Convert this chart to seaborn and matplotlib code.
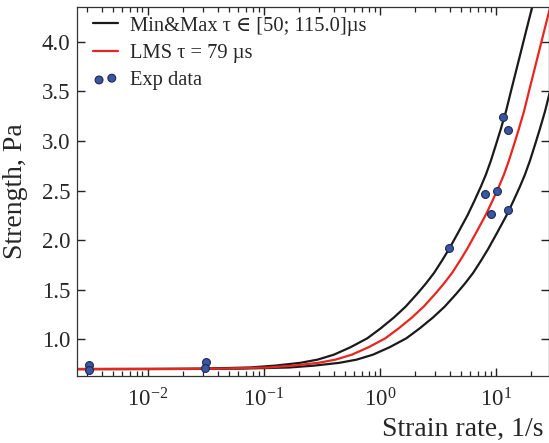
import numpy as np
import pandas as pd
import matplotlib
matplotlib.use("Agg")
import matplotlib.pyplot as plt
import seaborn as sns

# curves (strain rate in 1/s, strength)
rate_max = [0.00248, 0.0105, 0.0283, 0.0764, 0.1257, 0.2066, 0.2897, 0.401, 0.558,
            0.778, 1.014, 1.32, 1.667, 2.10, 2.48, 2.93, 3.41, 3.94, 4.69, 5.68,
            6.48, 7.41, 8.18, 9.03, 9.98, 11.0, 12.2, 13.45, 14.85, 16.4, 18.1,
            20.0, 22.1]
str_max = [0.700, 0.701, 0.704, 0.716, 0.735, 0.763, 0.795, 0.845, 0.92,
           1.01, 1.11, 1.22, 1.33, 1.46, 1.56, 1.67, 1.79, 1.91, 2.07, 2.25,
           2.39, 2.54, 2.66, 2.80, 2.96, 3.12, 3.30, 3.50, 3.70, 3.90, 4.10,
           4.30, 4.50]

rate_lms = [0.00248, 0.0150, 0.0405, 0.109, 0.180, 0.295, 0.414, 0.573, 0.798,
            1.113, 1.450, 1.888, 2.384, 3.003, 3.546, 4.190, 4.876, 5.634, 6.707,
            8.122, 9.266, 10.60, 11.70, 12.91, 14.27, 15.73, 17.45, 19.23, 21.24,
            23.45, 25.88, 28.60, 31.60]
str_lms = [0.700, 0.701, 0.704, 0.716, 0.735, 0.763, 0.795, 0.845, 0.92,
           1.01, 1.11, 1.22, 1.33, 1.46, 1.56, 1.67, 1.79, 1.91, 2.07,
           2.25, 2.39, 2.54, 2.66, 2.80, 2.96, 3.12, 3.30, 3.50, 3.70,
           3.90, 4.10, 4.30, 4.50]

rate_min = [0.00248, 0.0228, 0.0614, 0.166, 0.273, 0.448, 0.629, 0.870, 1.211,
            1.688, 2.200, 2.864, 3.617, 4.557, 5.382, 6.358, 7.400, 8.550, 10.18,
            12.33, 14.06, 16.08, 17.75, 19.60, 21.66, 23.87, 26.47, 29.19, 32.2]
str_min = [0.700, 0.701, 0.704, 0.716, 0.735, 0.763, 0.795, 0.845, 0.92,
           1.01, 1.11, 1.22, 1.33, 1.46, 1.56, 1.67, 1.79, 1.91, 2.07,
           2.25, 2.39, 2.54, 2.66, 2.80, 2.96, 3.12, 3.30, 3.50, 3.70]

exp_rate = [0.00311, 0.00311, 0.0319, 0.031, 3.97, 8.02, 10.2, 9.04, 12.7, 11.6, 12.7]
exp_str = [0.744, 0.687, 0.77, 0.71, 1.92, 2.46, 2.50, 2.26, 2.30, 3.24, 3.11]

sns.set_style("ticks")
plt.rcParams['font.family'] = ['Liberation Serif', 'DejaVu Serif']
plt.rcParams['mathtext.fontset'] = 'stix'

fig = plt.figure(figsize=(5.49, 4.43), dpi=100)
ax = fig.add_axes([0.1408, 0.1519, 0.8601, 0.8316])

sns.lineplot(x=rate_max, y=str_max, ax=ax, color='#1a1a1a', lw=1.6,
             label='Min&Max τ ∈ [50; 115.0]µs', sort=False)
sns.lineplot(x=rate_min, y=str_min, ax=ax, color='#1a1a1a', lw=1.6, sort=False)
sns.lineplot(x=rate_lms, y=str_lms, ax=ax, color='#e8251f', lw=1.6,
             label='LMS τ = 79 µs', sort=False)
sns.scatterplot(x=exp_rate, y=exp_str, ax=ax, color='#3a55a4', edgecolor='#1d2a4f',
                linewidth=0.8, s=32, label='Exp data', zorder=5)

ax.set_xscale('log')
ax.set_xlim(0.00247, 28.9)
ax.set_ylim(0.633, 4.347)
ax.set_yticks([1.0, 1.5, 2.0, 2.5, 3.0, 3.5, 4.0])

ax.tick_params(which='both', direction='in', top=True, right=True, labelsize=16.5,
               color='#222222')
ax.tick_params(which='major', length=6, width=1)
ax.tick_params(which='minor', length=3.5, width=0.9)
ax.tick_params(axis='x', which='both', pad=9)
ax.tick_params(axis='y', which='both', pad=5)
for sp in ax.spines.values():
    sp.set_linewidth(0.9)
    sp.set_color('#333333')

ax.set_xlabel('Strain rate, 1/s', fontsize=20, loc='right')
ax.xaxis.set_label_coords(0.987, -0.112)
ax.set_ylabel('Strength, Pa', fontsize=20)
ax.yaxis.set_label_coords(-0.105, 0.5)

ax.legend(loc='upper left', bbox_to_anchor=(0.033, 0.976), frameon=False,
          fontsize=14.8, scatterpoints=2, handlelength=1.22, handletextpad=0.59,
          labelspacing=0.39, borderaxespad=0, borderpad=0)

fig.savefig('out.png', dpi=100)
